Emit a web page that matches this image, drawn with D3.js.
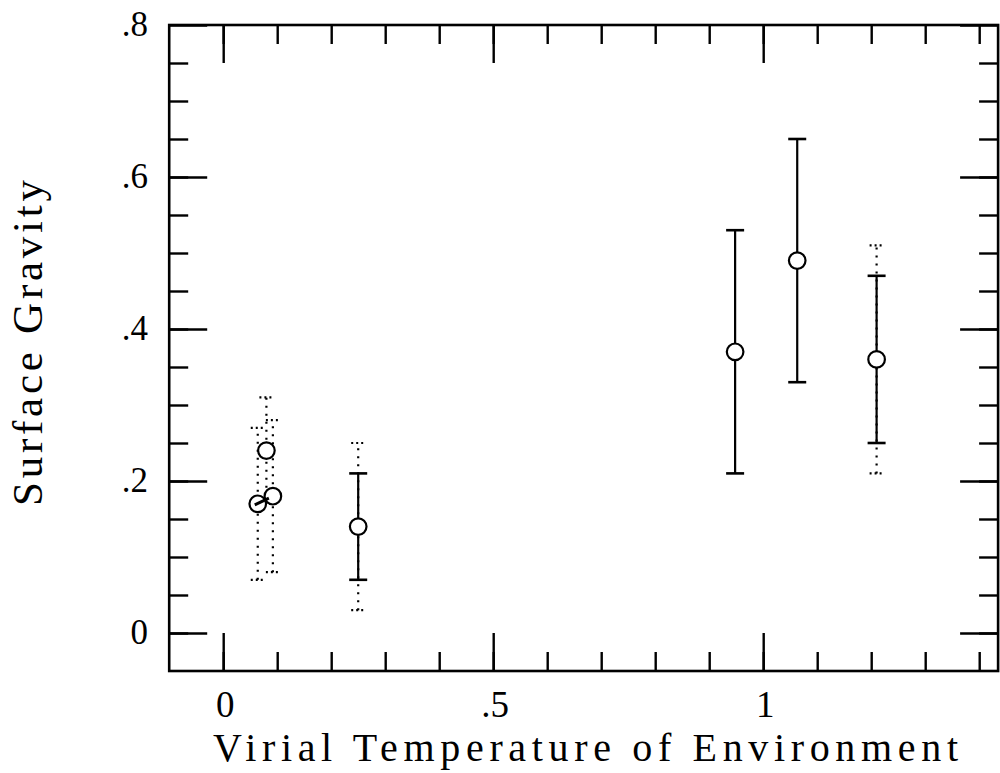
<!DOCTYPE html>
<html>
<head>
<meta charset="utf-8">
<script src="https://cdn.jsdelivr.net/npm/d3@7"></script>
<style>
  html, body { margin: 0; padding: 0; background: #fff; }
  svg { display: block; }
  text { font-family: "Liberation Serif", "Times New Roman", serif; fill: #000; }
</style>
</head>
<body>
<svg id="chart" width="1000" height="773"></svg>
<script>
// ---------- data ----------
// points with solid error bars: x, y, low, high
const solidX    = [0.25, 0.948, 1.063, 1.21];
const solidY    = [0.14, 0.37, 0.49, 0.36];
const solidLow  = [0.07, 0.21, 0.33, 0.25];
const solidHigh = [0.21, 0.53, 0.65, 0.47];

// dotted error bars: x, low, high
const dotX    = [0.064, 0.080, 0.092, 0.25, 1.21];
const dotLow  = [0.07, 0.17, 0.08, 0.03, 0.21];
const dotHigh = [0.27, 0.31, 0.28, 0.25, 0.51];

// circles of points with dotted error bars only
const openX = [0.064, 0.080, 0.092];
const openY = [0.17, 0.24, 0.18];

// axis ticks
const xMajor = [0, 0.5, 1];
const xMajorLabels = ["0", ".5", "1"];
const xMinor = [0, 0.1, 0.2, 0.3, 0.4, 0.5, 0.6, 0.7, 0.8, 0.9, 1.0, 1.1, 1.2, 1.3, 1.4];
const yMajor = [0, 0.2, 0.4, 0.6, 0.8];
const yMajorLabels = ["0", ".2", ".4", ".6", ".8"];
const yMinor = [0, 0.05, 0.1, 0.15, 0.2, 0.25, 0.3, 0.35, 0.4, 0.45, 0.5, 0.55, 0.6, 0.65, 0.7, 0.75];

const xTitle = "Virial Temperature of Environment";
const yTitle = "Surface Gravity";

// ---------- layout ----------
const svg = d3.select("#chart");
const x = d3.scaleLinear().domain([-0.1, 1.435]).range([169.2, 998.1]);
const y = d3.scaleLinear().domain([-0.05, 0.8]).range([671, 25]);
const [x0, x1] = x.range();
const [y0, y1] = y.range();
const majorLen = 38, minorLen = 19;
const ink = "#000";

// ---------- ticks via d3 axes (inward) ----------
function tickAxis(axisFn, scale, values, len, transform) {
  const g = svg.append("g").attr("transform", transform)
    .call(axisFn(scale).tickValues(values).tickSize(-len).tickFormat(""));
  g.select(".domain").remove();
  g.selectAll(".tick line").attr("stroke", ink).attr("stroke-width", 2.4);
  return g;
}
tickAxis(d3.axisBottom, x, xMinor, minorLen, `translate(0,${y0})`);
tickAxis(d3.axisBottom, x, xMajor, majorLen, `translate(0,${y0})`);
tickAxis(d3.axisTop, x, xMinor, minorLen, `translate(0,${y1})`);
tickAxis(d3.axisTop, x, xMajor, majorLen, `translate(0,${y1})`);
tickAxis(d3.axisLeft, y, yMinor, minorLen, `translate(${x0},0)`);
tickAxis(d3.axisLeft, y, yMajor, majorLen, `translate(${x0},0)`);
tickAxis(d3.axisRight, y, yMinor, minorLen, `translate(${x1},0)`);
tickAxis(d3.axisRight, y, yMajor, majorLen, `translate(${x1},0)`);

// frame
svg.append("rect")
  .attr("x", x0).attr("y", y1)
  .attr("width", x1 - x0).attr("height", y0 - y1)
  .attr("fill", "none").attr("stroke", ink).attr("stroke-width", 2.6);

// tick labels
svg.append("g").selectAll("text").data(xMajor).join("text")
  .attr("x", d => x(d) + 2).attr("y", 717)
  .attr("text-anchor", "middle").attr("font-size", 37)
  .text((d, i) => xMajorLabels[i]);

svg.append("g").selectAll("text").data(yMajor).join("text")
  .attr("x", 148).attr("y", d => y(d) + 11)
  .attr("text-anchor", "end").attr("font-size", 35)
  .text((d, i) => yMajorLabels[i]);

// axis titles
svg.append("text")
  .attr("x", 213).attr("y", 761)
  .attr("font-size", 40)
  .attr("textLength", 745).attr("lengthAdjust", "spacing")
  .text(xTitle);

svg.append("text")
  .attr("transform", "translate(42,506) rotate(-90)")
  .attr("font-size", 43)
  .attr("textLength", 326).attr("lengthAdjust", "spacing")
  .text(yTitle);

// ---------- dotted error bars ----------
const dotG = svg.append("g")
  .attr("stroke", ink).attr("stroke-width", 2.2)
  .attr("stroke-dasharray", "2,6").attr("fill", "none");
const dotCap = 7;
dotX.forEach((d, i) => {
  dotG.append("line")
    .attr("x1", x(d)).attr("x2", x(d))
    .attr("y1", y(dotLow[i])).attr("y2", y(dotHigh[i]));
  [dotLow[i], dotHigh[i]].forEach(v => {
    dotG.append("line")
      .attr("x1", x(d) - dotCap).attr("x2", x(d) + dotCap)
      .attr("y1", y(v)).attr("y2", y(v))
      .attr("stroke-dasharray", "2,3");
  });
});

// ---------- solid error bars ----------
const solG = svg.append("g").attr("stroke", ink).attr("fill", "none");
const cap = 9;
solidX.forEach((d, i) => {
  solG.append("line")
    .attr("x1", x(d)).attr("x2", x(d))
    .attr("y1", y(solidLow[i])).attr("y2", y(solidHigh[i]))
    .attr("stroke-width", 2.2);
  [solidLow[i], solidHigh[i]].forEach(v => {
    solG.append("line")
      .attr("x1", x(d) - cap).attr("x2", x(d) + cap)
      .attr("y1", y(v)).attr("y2", y(v))
      .attr("stroke-width", 2.6);
  });
});

// ---------- circles ----------
const allX = solidX.concat(openX);
const allY = solidY.concat(openY);
svg.append("g").selectAll("circle").data(allX).join("circle")
  .attr("cx", d => x(d)).attr("cy", (d, i) => y(allY[i]))
  .attr("r", 8.3)
  .attr("fill", "#fff").attr("stroke", ink).attr("stroke-width", 2.2);

// small dark mark joining the two lower circles of the left cluster
svg.append("line")
  .attr("x1", x(openX[0]) - 3).attr("y1", y(openY[0]) + 1)
  .attr("x2", x(openX[2]) - 4).attr("y2", y(openY[2]) + 2)
  .attr("stroke", ink).attr("stroke-width", 3);
</script>
</body>
</html>
